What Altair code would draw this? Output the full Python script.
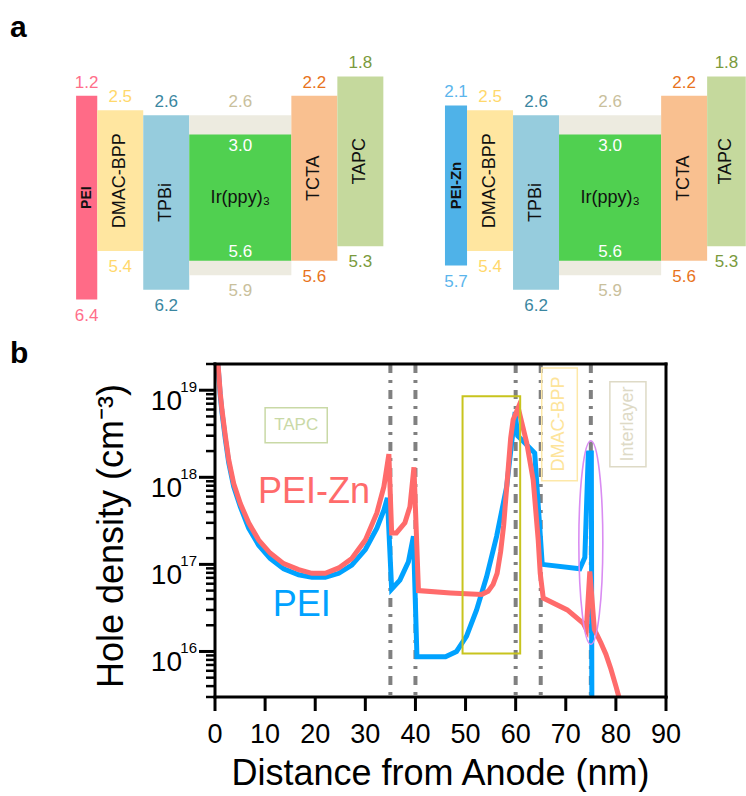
import altair as alt
import pandas as pd

FONT = "Liberation Sans"

# ---------------- panel a : energy levels (eV) ----------------
col_names = ["PEI", "DMAC-BPP", "TPBi", "EML", "TCTA", "TAPC"]
col_width_left = [0.46, 1.0, 1.0, 2.22, 1.0, 1.0]
col_width_right = [0.48, 1.0, 1.0, 2.22, 1.0, 0.84]
diagram_start = {"left": 0.0, "right": 8.02}

bar_names = ["PEI", "DMAC-BPP", "TPBi", "host", "Ir(ppy)₃", "TCTA", "TAPC"]
bar_cols = ["PEI", "DMAC-BPP", "TPBi", "EML", "EML", "TCTA", "TAPC"]
bar_top = [2.2, 2.5, 2.6, 2.6, 3.0, 2.2, 1.8]
bar_bottom = [6.4, 5.4, 6.2, 5.9, 5.6, 5.6, 5.3]
lumo_text = ["1.2", "2.5", "2.6", "2.6", "3.0", "2.2", "1.8"]
homo_text = ["6.4", "5.4", "6.2", "5.9", "5.6", "5.6", "5.3"]
bar_fill = ["#ff6b87", "#ffe6a0", "#96ccdd", "#edebe0", "#50d050", "#f9c090", "#c5d99d"]
num_color = ["#ff6e8a", "#ffd86b", "#3a86a0", "#c9c09c", "#ffffff", "#e8731c", "#7a9a3c"]

zn_layer = dict(name="PEI-Zn", top=2.4, bottom=5.7, lumo="2.1", homo="5.7",
                fill="#4fb2e8", color="#5bb5ec")

rows = []
for side, widths in (("left", col_width_left), ("right", col_width_right)):
    edges = {}
    pos = diagram_start[side]
    for c, w in zip(col_names, widths):
        edges[c] = (pos, pos + w)
        pos += w
    for i in range(len(bar_names)):
        name, top, bot = bar_names[i], bar_top[i], bar_bottom[i]
        lt, ht, fill, colr = lumo_text[i], homo_text[i], bar_fill[i], num_color[i]
        if side == "right" and i == 0:
            name, top, bot = zn_layer["name"], zn_layer["top"], zn_layer["bottom"]
            lt, ht = zn_layer["lumo"], zn_layer["homo"]
            fill, colr = zn_layer["fill"], zn_layer["color"]
        x0, x1 = edges[bar_cols[i]]
        rows.append(dict(name=name, x0=x0, x1=x1, xm=(x0 + x1) / 2, top=top,
                         bottom=bot, ym=(top + bot) / 2, lumo=lt, homo=ht,
                         fill=fill, tcol=colr))
bars = pd.DataFrame(rows)

xa_scale = alt.Scale(domain=[3.02, 14.565], zero=False, nice=False)
ya_scale = alt.Scale(domain=[0.225, 7.235], reverse=True, zero=False, nice=False)


def xa(f):
    return alt.X(f, type="quantitative", scale=xa_scale, axis=None)


def ya(f):
    return alt.Y(f, type="quantitative", scale=ya_scale, axis=None)


outer = bars[bars["name"] != "Ir(ppy)₃"]
dopant = bars[bars["name"] == "Ir(ppy)₃"]
vert_names = bars[bars["name"].isin(["DMAC-BPP", "TPBi", "TCTA", "TAPC"])]
pei_name = bars[bars["name"] == "PEI"]
zn_name = bars[bars["name"] == "PEI-Zn"]

rects_a = alt.Chart(bars).mark_rect().encode(
    x=xa("x0"), x2="x1", y=ya("top"), y2="bottom",
    fill=alt.Fill("fill:N", scale=None))
top_num = alt.Chart(outer).mark_text(dy=-13, fontSize=17).encode(
    x=xa("xm"), y=ya("top"), text="lumo:N", color=alt.Color("tcol:N", scale=None))
bot_num = alt.Chart(outer).mark_text(dy=16, fontSize=17).encode(
    x=xa("xm"), y=ya("bottom"), text="homo:N", color=alt.Color("tcol:N", scale=None))
dop_top = alt.Chart(dopant).mark_text(dy=11, fontSize=17, color="white").encode(
    x=xa("xm"), y=ya("top"), text="lumo:N")
dop_bot = alt.Chart(dopant).mark_text(dy=-9, fontSize=17, color="white").encode(
    x=xa("xm"), y=ya("bottom"), text="homo:N")
names_v = alt.Chart(vert_names).mark_text(angle=270, fontSize=18, color="#111").encode(
    x=xa("xm"), y=ya("ym"), text="name:N")
names_pei = alt.Chart(pei_name).mark_text(angle=270, fontSize=14, fontWeight="bold",
                                          color="#111").encode(
    x=xa("xm"), y=ya("ym"), text="name:N")
names_zn = alt.Chart(zn_name).mark_text(angle=270, fontSize=15, fontWeight="bold",
                                        color="#111").encode(
    x=xa("xm"), y=ya("ym"), text="name:N")
names_h = alt.Chart(dopant).mark_text(fontSize=18, color="#111").encode(
    x=xa("xm"), y=ya("ym"), text="name:N")
label_a = alt.Chart(pd.DataFrame({"t": ["a"]})).mark_text(
    align="left", baseline="alphabetic", fontSize=30, fontWeight="bold", color="black"
).encode(x=alt.value(-205), y=alt.value(37), text="t:N")

panel_a = alt.layer(rects_a, top_num, bot_num, dop_top, dop_bot, names_v, names_pei,
                    names_zn, names_h, label_a).properties(width=531, height=340)

# ---------------- panel b : hole density ----------------
red_x = [0.6, 1.06, 1.40, 2.06, 2.73, 3.73, 5.05, 6.72, 8.72, 11.0, 13.7, 16.7, 19.35,
         22.0, 24.7, 27.3, 30.0, 32.3, 33.7, 34.7, 35.25, 36.2, 37.9, 38.9, 39.7,
         40.6, 47.0, 53.2, 54.5, 55.5, 56.3, 57.0, 57.6, 58.3, 59.0, 59.5, 60.5,
         62.2, 63.5, 64.5, 64.9, 65.5, 70.3, 73.5, 74.1, 74.8, 75.7, 77.0, 78.0,
         79.0, 80.0, 80.6]
red_y = [2.0e19, 9.1e18, 5.9e18, 3.0e18, 1.6e18, 8.5e17, 5.0e17, 3.0e17, 1.9e17,
         1.35e17, 1.02e17, 8.7e16, 7.9e16, 7.9e16, 9.1e16, 1.17e17, 1.9e17, 3.9e17,
         7.8e17, 1.85e18, 2.3e17, 2.3e17, 3.0e17, 4.6e17, 1.3e18, 5.0e16, 4.7e16,
         4.5e16, 4.9e16, 5.9e16, 7.9e16, 1.4e17, 2.8e17, 8.9e17, 2.8e18, 4.6e18,
         6.3e18, 2.5e18, 9.3e17, 1.9e17, 7.9e16, 4.1e16, 3.0e16, 2.1e16, 1.8e16,
         8.3e16, 1.8e16, 1.26e16, 9.3e15, 6.3e15, 4.0e15, 3.0e15]
blue_x = [0.58, 1.06, 1.40, 2.06, 2.73, 3.73, 5.05, 6.72, 8.72, 11.0, 13.7, 16.7,
          19.35, 22.0, 24.7, 27.3, 30.0, 32.3, 33.7, 34.4, 35.25, 36.9, 38.6, 39.6,
          40.3, 46.0, 48.2, 50.2, 52.2, 54.2, 56.2, 58.2, 59.9, 60.4, 61.5, 63.8,
          65.3, 72.8, 73.8, 74.5, 75.1, 75.2]
blue_y = [2.0e19, 8.5e18, 5.5e18, 2.75e18, 1.48e18, 7.8e17, 4.6e17, 2.6e17, 1.66e17,
          1.17e17, 8.9e16, 7.6e16, 7.1e16, 7.1e16, 7.9e16, 9.8e16, 1.48e17, 2.6e17,
          4.2e17, 5.8e17, 5.2e16, 6.6e16, 1.07e17, 2.1e17, 8.7e15, 8.7e15, 1.0e16,
          1.5e16, 3.0e16, 7.2e16, 2.1e17, 7.8e17, 5.6e18, 3.0e18, 2.6e18, 1.9e18,
          1.0e17, 8.9e16, 1.2e17, 1.9e18, 1.9e18, 3.0e15]

interfaces = [35, 40, 60, 65, 75]
x_ticks = [0, 10, 20, 30, 40, 50, 60, 70, 80, 90]
y_major = [1e16, 1e17, 1e18, 1e19]
y_exponent = ["16", "17", "18", "19"]
y_minor = [3e15, 4e15, 5e15, 6e15, 7e15, 8e15, 9e15,
           2e16, 3e16, 4e16, 5e16, 6e16, 7e16, 8e16, 9e16,
           2e17, 3e17, 4e17, 5e17, 6e17, 7e17, 8e17, 9e17,
           2e18, 3e18, 4e18, 5e18, 6e18, 7e18, 8e18, 9e18, 2e19]
x_title = "Distance from Anode (nm)"
y_title = "Hole density (cm⁻³)"

box_name = ["TAPC", "EML", "DMAC-BPP", "Interlayer"]
box_x0 = [10.0, 49.4, 65.2, 78.8]
box_x1 = [22.4, 60.9, 72.3, 86.0]
box_hi = [6.3e18, 8.5e18, 1.8e19, 1.25e19]
box_lo = [2.5e18, 9.5e15, 9.1e17, 1.32e18]
box_color = ["#c9d9a6", "#c8c41e", "#fde8a8", "#dedac6"]
box_width = [1.5, 2.0, 1.5, 1.5]

ann_text = ["TAPC", "DMAC-BPP", "Interlayer"]
ann_x = [16.2, 68.7, 82.4]
ann_y = [4.0e18, 4.1e18, 4.1e18]
ann_angle = [0, 270, 270]
ann_color = ["#c9d9a6", "#fde49a", "#dedac6"]

series_text = ["PEI-Zn", "PEI"]
series_x = [19.75, 17.3]
series_y = [6.7e17, 3.4e16]
series_color = ["#ff6b6b", "#00a2ff"]

ellipse_x = [75.0]
ellipse_y = [1.78e17]

red_df = pd.DataFrame({"x": red_x, "y": red_y})
blue_df = pd.DataFrame({"x": blue_x, "y": blue_y})
iface_df = pd.DataFrame({"x": interfaces})
box_df = pd.DataFrame({"name": box_name, "x0": box_x0, "x1": box_x1, "hi": box_hi,
                       "lo": box_lo, "c": box_color, "w": box_width})
ann_df = pd.DataFrame({"t": ann_text, "x": ann_x, "y": ann_y, "a": ann_angle,
                       "c": ann_color})
ser_df = pd.DataFrame({"t": series_text, "x": series_x, "y": series_y, "c": series_color})
ell_df = pd.DataFrame({"x": ellipse_x, "y": ellipse_y})
ylab_df = pd.DataFrame({"y": y_major, "base": ["10"] * len(y_major), "t": y_exponent})
xlab_df = pd.DataFrame({"x": x_ticks, "t": [str(v) for v in x_ticks]})
major_df = pd.DataFrame({"y": y_major})
minor_df = pd.DataFrame({"y": y_minor})
xtick_df = pd.DataFrame({"x": x_ticks})
one = pd.DataFrame({"k": [1]})

xb_scale = alt.Scale(domain=[0, 90], nice=False, zero=False)
yb_scale = alt.Scale(type="log", domain=[3e15, 2e19], nice=False)


def xb(f):
    return alt.X(f, type="quantitative", scale=xb_scale, axis=None)


def yb(f):
    return alt.Y(f, type="quantitative", scale=yb_scale, axis=None)


rules = alt.Chart(iface_df).mark_rule(
    color="#808080", strokeWidth=4, strokeDash=[9, 7, 3, 7]).encode(x=xb("x"))
blue_line = alt.Chart(blue_df).mark_line(color="#00a2ff", strokeWidth=5).encode(
    x=xb("x"), y=yb("y"))
red_line = alt.Chart(red_df).mark_line(color="#ff6b6b", strokeWidth=5).encode(
    x=xb("x"), y=yb("y"))
boxes = alt.Chart(box_df).mark_rect(fillOpacity=0).encode(
    x=xb("x0"), x2="x1", y=yb("hi"), y2="lo",
    stroke=alt.Stroke("c:N", scale=None),
    strokeWidth=alt.StrokeWidth("w:Q", scale=None))
ann_h = alt.Chart(ann_df[ann_df["a"] == 0]).mark_text(fontSize=17).encode(
    x=xb("x"), y=yb("y"), text="t:N", color=alt.Color("c:N", scale=None))
ann_v = alt.Chart(ann_df[ann_df["a"] == 270]).mark_text(angle=270, fontSize=18).encode(
    x=xb("x"), y=yb("y"), text="t:N", color=alt.Color("c:N", scale=None))
series_lbl = alt.Chart(ser_df).mark_text(fontSize=36).encode(
    x=xb("x"), y=yb("y"), text="t:N", color=alt.Color("c:N", scale=None))
ELLIPSE = ("M0,-1C0.0652,-1,0.118,-0.5523,0.118,0C0.118,0.5523,0.0652,1,0,1"
           "C-0.0652,1,-0.118,0.5523,-0.118,0C-0.118,-0.5523,-0.0652,-1,0,-1Z")
ellipse = alt.Chart(ell_df).mark_point(
    shape=ELLIPSE, size=41400, filled=False, color="#d98cf2", strokeWidth=1.6,
    opacity=1).encode(x=xb("x"), y=yb("y"))
label_b = alt.Chart(pd.DataFrame({"t": ["b"]})).mark_text(
    align="left", baseline="alphabetic", fontSize=30, fontWeight="bold", color="black"
).encode(x=alt.value(-205), y=alt.value(-1), text="t:N")

# axis furniture (labels, titles, ticks, frame) drawn as marks
y_base_lbl = alt.Chart(ylab_df).mark_text(
    align="right", baseline="alphabetic", fontSize=28, dy=20, color="black").encode(
    y=yb("y"), x=alt.value(-33), text="base:N")
y_sup_lbl = alt.Chart(ylab_df).mark_text(
    align="right", baseline="alphabetic", fontSize=15, dy=2, color="black").encode(
    y=yb("y"), x=alt.value(-18), text="t:N")
x_lbl = alt.Chart(xlab_df).mark_text(
    align="center", baseline="alphabetic", fontSize=27, color="black").encode(
    x=xb("x"), y=alt.value(379), text="t:N")
x_ttl = alt.Chart(pd.DataFrame({"t": [x_title]})).mark_text(
    align="center", baseline="alphabetic", fontSize=36, color="black").encode(
    x=alt.value(225.5), y=alt.value(421), text="t:N")
y_ttl = alt.Chart(pd.DataFrame({"t": [y_title]})).mark_text(
    align="center", baseline="alphabetic", fontSize=36, angle=270, color="black").encode(
    x=alt.value(-92), y=alt.value(172), text="t:N")

y_major_ticks = alt.Chart(major_df).mark_rule(
    color="black", strokeWidth=3, opacity=1).encode(
    y=yb("y"), x=alt.value(-16), x2=alt.value(1))
y_minor_ticks = alt.Chart(minor_df).mark_rule(
    color="black", strokeWidth=2.5, opacity=1).encode(
    y=yb("y"), x=alt.value(-9), x2=alt.value(1))
x_tick_marks = alt.Chart(xtick_df).mark_rule(
    color="black", strokeWidth=3, opacity=1).encode(
    x=xb("x"), y=alt.value(332), y2=alt.value(347))

frame_top = alt.Chart(one).mark_rule(color="black", strokeWidth=3).encode(
    x=alt.value(-1.5), x2=alt.value(452.5), y=alt.value(0))
frame_bottom = alt.Chart(one).mark_rule(color="black", strokeWidth=3).encode(
    x=alt.value(-1.5), x2=alt.value(452.5), y=alt.value(333))
frame_left = alt.Chart(one).mark_rule(color="black", strokeWidth=3).encode(
    y=alt.value(-1.5), y2=alt.value(334.5), x=alt.value(0))
frame_right = alt.Chart(one).mark_rule(color="black", strokeWidth=3).encode(
    y=alt.value(-1.5), y2=alt.value(334.5), x=alt.value(451))

panel_b = alt.layer(
    rules, blue_line, red_line, boxes, ann_h, ann_v, series_lbl, ellipse, label_b,
    y_base_lbl, y_sup_lbl, x_lbl, x_ttl, y_ttl,
    frame_top, frame_bottom, frame_left, frame_right,
    y_major_ticks, y_minor_ticks, x_tick_marks
).properties(width=451, height=333)

chart = alt.vconcat(panel_a, panel_b, spacing=24, bounds="flush").properties(
    padding={"left": 10, "top": 0, "right": 0, "bottom": 0}
).configure_text(font=FONT).configure_view(stroke="transparent", strokeWidth=0)

chart.save("out.html", embed_options={"renderer": "svg", "actions": False})
